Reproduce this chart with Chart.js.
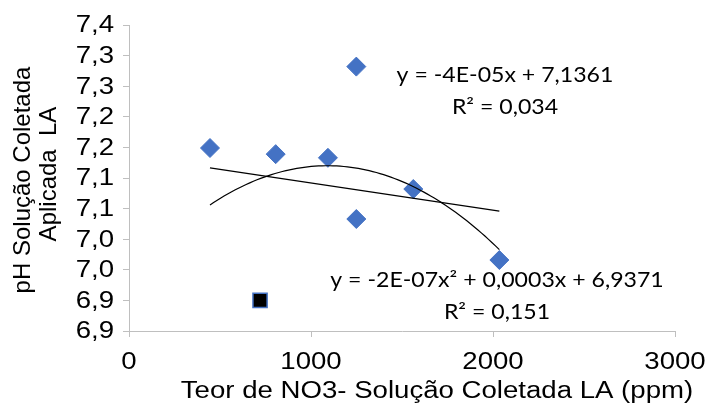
<!DOCTYPE html>
<html lang="pt">
<head>
<meta charset="UTF-8">
<title>pH x Teor de NO3-</title>
<script src="https://cdn.jsdelivr.net/npm/chart.js"></script>
<style>
  body { margin: 0; background: #fff; }
</style>
</head>
<body>
<canvas id="grafico" width="707" height="407"></canvas>
<script>
// Amostras: teor de NO3- (ppm) e pH da solução coletada
const teorNO3 = [445, 806, 1093, 1249, 1249, 1562, 2035];
const phAmostra = [7.149, 7.139, 7.133, 7.282, 7.033, 7.082, 6.966];
// amostra marcada com quadrado
const teorNO3Destaque = [720];
const phDestaque = [6.900];

const yTickValores = [6.85, 6.9, 6.95, 7.0, 7.05, 7.1, 7.15, 7.2, 7.25, 7.3, 7.35];
const yTickRotulos = ['6,9', '6,9', '7,0', '7,0', '7,1', '7,1', '7,2', '7,2', '7,3', '7,3', '7,4'];
const xTickValores = [0, 1000, 2000, 3000];
const xTickRotulos = ['0', '1000', '2000', '3000'];

const tituloX = 'Teor de NO3- Solução Coletada LA (ppm)';
const tituloY = ['pH Solução Coletada', 'Aplicada  LA'];
const eqLinear = ['y = -4E-05x + 7,1361', 'R² = 0,034'];
const eqQuadratica = ['y = -2E-07x² + 0,0003x + 6,9371', 'R² = 0,151'];

// mínimos quadrados (equações normais + eliminação de Gauss)
function ajustePolinomio(xs, ys, grau) {
  const n = grau + 1;
  const A = [];
  for (let i = 0; i < n; i++) {
    A.push(new Array(n + 1).fill(0));
    for (let j = 0; j < n; j++) {
      A[i][j] = xs.reduce((s, x) => s + Math.pow(x, i + j), 0);
    }
    A[i][n] = xs.reduce((s, x, k) => s + ys[k] * Math.pow(x, i), 0);
  }
  for (let c = 0; c < n; c++) {
    let p = c;
    for (let r = c + 1; r < n; r++) if (Math.abs(A[r][c]) > Math.abs(A[p][c])) p = r;
    [A[c], A[p]] = [A[p], A[c]];
    for (let r = 0; r < n; r++) {
      if (r === c) continue;
      const f = A[r][c] / A[c][c];
      for (let k = c; k <= n; k++) A[r][k] -= f * A[c][k];
    }
  }
  const coef = A.map((lin, i) => lin[n] / lin[i]);
  return x => coef.reduce((s, a, i) => s + a * Math.pow(x, i), 0);
}

const todosX = teorNO3.concat(teorNO3Destaque);
const todosY = phAmostra.concat(phDestaque);
const xMin = Math.min(...todosX);
const xMax = Math.max(...todosX);

const fLinear = ajustePolinomio(todosX, todosY, 1);
const fQuad = ajustePolinomio(todosX, todosY, 2);

const linhaLinear = [xMin, xMax].map(x => ({ x, y: fLinear(x) }));
const linhaQuad = [];
for (let i = 0; i <= 80; i++) {
  const x = xMin + (xMax - xMin) * i / 80;
  linhaQuad.push({ x, y: fQuad(x) });
}

const azul = '#4472C4';
const corEixo = '#BFBFBF';
const fonteArial = '23px "Liberation Sans", Arial, sans-serif';
const fonteTituloY = '24px "Liberation Sans", Arial, sans-serif';
const fonteEq = '21px Lato, "Open Sans", sans-serif';
const esticar = 1.2;

// posições dos textos das equações (em unidades dos eixos)
const posEquacoes = [
  { linhas: eqLinear, x: 2066, y: 7.268, passo: 0.052 },
  { linhas: eqQuadratica, x: 2022, y: 6.933, passo: 0.052 }
];

// texto alargado na horizontal
function texto(ctx, txt, x, y, sx, angulo) {
  ctx.save();
  ctx.translate(x, y);
  ctx.scale(sx, 1);
  if (angulo) ctx.rotate(angulo);
  ctx.fillText(txt, 0, 0);
  ctx.restore();
}

const textosGrafico = {
  id: 'textosGrafico',
  afterDraw(chart) {
    const { ctx, chartArea: area, scales: { x, y } } = chart;
    ctx.save();
    ctx.fillStyle = '#000';

    // rótulos dos eixos
    ctx.font = fonteArial;
    ctx.textAlign = 'right';
    ctx.textBaseline = 'middle';
    yTickValores.forEach((v, i) => texto(ctx, yTickRotulos[i], area.left - 15, y.getPixelForValue(v) + 1, esticar));
    ctx.textAlign = 'center';
    xTickValores.forEach((v, i) => texto(ctx, xTickRotulos[i], x.getPixelForValue(v), area.bottom + 32, esticar));

    // títulos
    ctx.textBaseline = 'alphabetic';
    texto(ctx, tituloX, 437, 398, esticar);
    ctx.font = fonteTituloY;
    ctx.textBaseline = 'middle';
    const cy = (area.top + area.bottom) / 2;
    texto(ctx, tituloY[0], 23, cy + 2, 1, -Math.PI / 2);
    texto(ctx, tituloY[1], 49, cy - 4, 1, -Math.PI / 2);

    // equações das linhas de tendência
    ctx.font = fonteEq;
    posEquacoes.forEach(eq => {
      eq.linhas.forEach((txt, i) => {
        texto(ctx, txt, x.getPixelForValue(eq.x), y.getPixelForValue(eq.y - i * eq.passo), 1.1);
      });
    });
    ctx.restore();
  }
};

new Chart(document.getElementById('grafico'), {
  type: 'scatter',
  data: {
    datasets: [
      {
        data: linhaLinear,
        showLine: true,
        borderColor: '#000',
        borderWidth: 1.2,
        pointRadius: 0
      },
      {
        data: linhaQuad,
        showLine: true,
        borderColor: '#000',
        borderWidth: 1.2,
        pointRadius: 0
      },
      {
        data: teorNO3.map((x, i) => ({ x, y: phAmostra[i] })),
        pointStyle: 'rectRot',
        pointRadius: 9.5,
        backgroundColor: azul,
        borderColor: azul,
        borderWidth: 1
      },
      {
        data: teorNO3Destaque.map((x, i) => ({ x, y: phDestaque[i] })),
        pointStyle: 'rect',
        pointRadius: 10,
        backgroundColor: '#000',
        borderColor: azul,
        borderWidth: 1.5
      }
    ]
  },
  options: {
    responsive: false,
    animation: false,
    layout: { padding: { top: 25, right: 32, left: 0, bottom: 0 } },
    plugins: {
      legend: { display: false },
      tooltip: { enabled: false }
    },
    scales: {
      x: {
        type: 'linear',
        min: 0,
        max: 3000,
        afterBuildTicks: s => { s.ticks = xTickValores.map(v => ({ value: v })); },
        afterFit: s => { s.height = 76; },
        grid: { drawOnChartArea: false, color: corEixo, tickLength: 6 },
        border: { color: corEixo, width: 1 },
        ticks: { display: false }
      },
      y: {
        type: 'linear',
        min: 6.85,
        max: 7.35,
        afterBuildTicks: s => { s.ticks = yTickValores.map(v => ({ value: v })); },
        afterFit: s => { s.width = 129; },
        grid: { drawOnChartArea: false, color: corEixo, tickLength: 6 },
        border: { color: corEixo, width: 1 },
        ticks: { display: false }
      }
    }
  },
  plugins: [textosGrafico]
});
</script>
</body>
</html>
